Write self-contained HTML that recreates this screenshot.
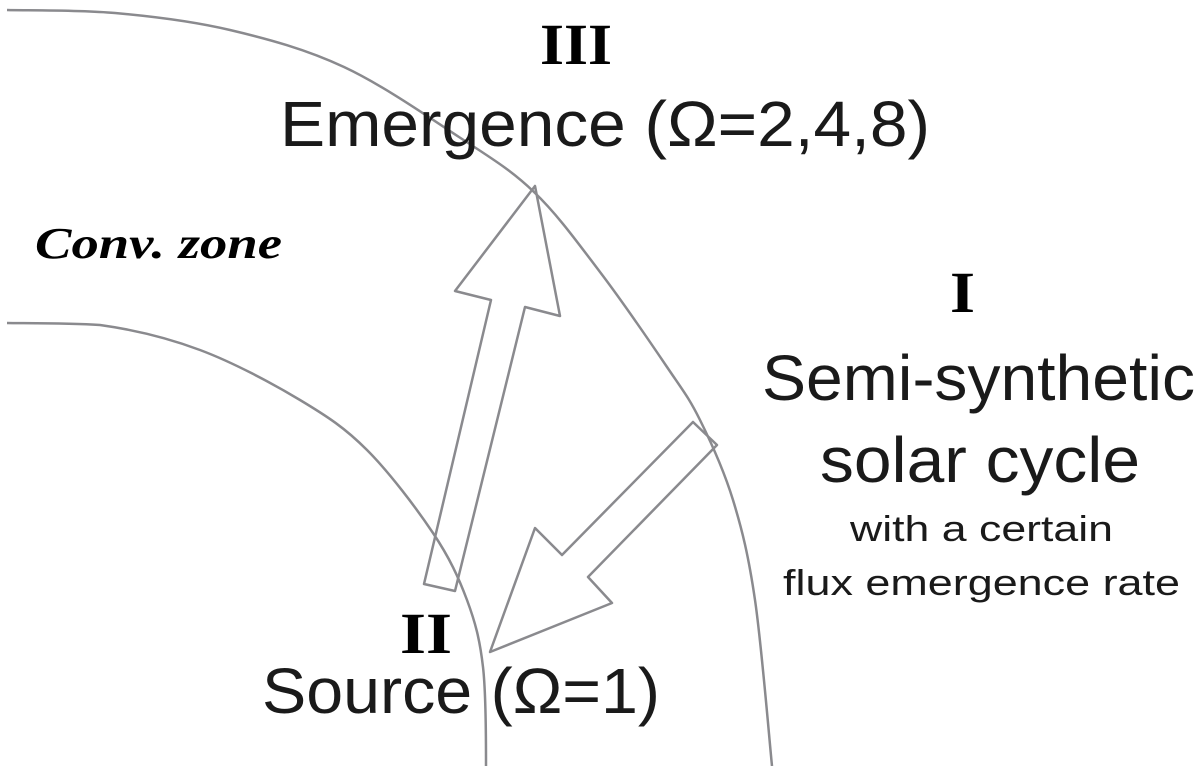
<!DOCTYPE html>
<html><head><style>html,body{margin:0;padding:0;background:#fff;width:1200px;height:766px;overflow:hidden}</style></head>
<body>
<svg width="1200" height="766" viewBox="0 0 1200 766" xmlns="http://www.w3.org/2000/svg">
<g fill="none" stroke="#8a8a8e" stroke-width="2.5" stroke-linejoin="round">
<path d="M7,10 C25,10.5 77.8,9.7 115,13 C152.2,16.3 191.8,21 230,30 C268.2,39 305.8,49.2 344,67 C382.2,84.8 427.3,116.2 459,137 C490.7,157.8 510.5,169.5 534,192 C557.5,214.5 577.8,242.8 600,272 C622.2,301.2 650.3,342.3 667,367 C683.7,391.7 689,397.8 700,420 C711,442.2 723.8,470 733,500 C742.2,530 748.5,555.7 755,600 C761.5,644.3 769.2,738.3 772,766"/>
<path d="M7,323 C22.5,323.3 67.8,323 100,325 C132.2,329.5 166.7,337.5 200,350 C233.3,362.5 272.2,383.3 300,400 C327.8,416.7 344.8,427.8 367,450 C389.2,472.2 416.3,508 433,533 C449.7,558 458.7,577.7 467,600 C475.3,622.3 479.8,639.3 483,667 C486.2,694.7 486,749.5 486,766"/>
<polygon points="535,186 560,316 525,307 455,591 424,584 491,300 455,291"/>
<polygon points="693,422 717,445 588,577 612,603 490,652 535,528 562,555"/>
</g>
<g font-family="Liberation Sans, sans-serif" fill="#1a1a1a">
<text x="540" y="64" font-family="Liberation Serif, serif" font-weight="bold" font-size="58" textLength="72" lengthAdjust="spacingAndGlyphs" fill="#000">III</text>
<text x="280" y="146" font-size="64" textLength="650" lengthAdjust="spacingAndGlyphs">Emergence (Ω=2,4,8)</text>
<text x="35" y="258" font-family="Liberation Serif, serif" font-style="italic" font-weight="bold" font-size="44" textLength="247" lengthAdjust="spacingAndGlyphs" fill="#000">Conv. zone</text>
<text x="950" y="312" font-family="Liberation Serif, serif" font-weight="bold" font-size="58" textLength="25" lengthAdjust="spacingAndGlyphs" fill="#000">I</text>
<text x="762" y="400" font-size="64" textLength="433" lengthAdjust="spacingAndGlyphs">Semi-synthetic</text>
<text x="820" y="482" font-size="64" textLength="320" lengthAdjust="spacingAndGlyphs">solar cycle</text>
<text x="850" y="541" font-size="36" textLength="263" lengthAdjust="spacingAndGlyphs">with a certain</text>
<text x="783" y="595" font-size="36" textLength="397" lengthAdjust="spacingAndGlyphs">flux emergence rate</text>
<text x="400" y="653" font-family="Liberation Serif, serif" font-weight="bold" font-size="58" textLength="52" lengthAdjust="spacingAndGlyphs" fill="#000">II</text>
<text x="262" y="713" font-size="64" textLength="398" lengthAdjust="spacingAndGlyphs">Source (Ω=1)</text>
</g>
</svg>
</body></html>
